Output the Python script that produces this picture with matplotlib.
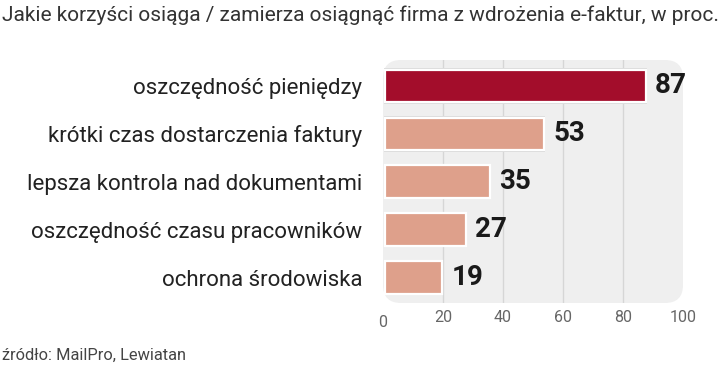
import matplotlib.pyplot as plt
from matplotlib.patches import FancyBboxPatch

# data
categories = ["oszczędność pieniędzy", "krótki czas dostarczenia faktury",
              "lepsza kontrola nad dokumentami", "oszczędność czasu pracowników",
              "ochrona środowiska"]
values = [87, 53, 35, 27, 19]
ticks = [0, 20, 40, 60, 80, 100]

title = "Jakie korzyści osiąga / zamierza osiągnąć firma z wdrożenia e-faktur, w proc."
source = "źródło: MailPro, Lewiatan"

W, H = 721, 371
fig = plt.figure(figsize=(W / 100, H / 100), dpi=100)
fig.patch.set_facecolor("white")

# axes placed in pixel terms: panel 383..683 x, 60..303 y
ax = fig.add_axes([383 / W, 1 - 303 / H, 300 / W, 243 / H])
ax.set_xlim(0, 100)
ax.set_ylim(4.53, -0.54)
ax.patch.set_visible(False)
for s in ax.spines.values():
    s.set_visible(False)

panel = FancyBboxPatch((0, 0), 1, 1, boxstyle="round,pad=0,rounding_size=0.06",
                       transform=ax.transAxes, facecolor="#efefef",
                       edgecolor="none", zorder=0, mutation_aspect=300 / 243)
ax.add_patch(panel)

for t in ticks[1:-1]:
    ax.axvline(t, color="#d6d6d6", lw=1, zorder=1)

colors = ["#a30d2b"] + ["#dea08b"] * (len(values) - 1)
ys = list(range(len(values)))

# soft shadow behind bars
ax.barh(ys, [v + 0.8 for v in values], height=0.74, left=0.2, color="#dadada",
        edgecolor="none", zorder=2)
ax.barh(ys, values, height=0.68, left=0.5, color=colors, edgecolor="white",
        linewidth=1.6, zorder=3)

for y, v in zip(ys, values):
    ax.annotate(str(v), (v + 0.5, y), xytext=(7, 0), textcoords="offset points",
                ha="left", va="center", fontsize=20, fontweight="bold",
                family="Roboto", color="#1a1a1a")

ax.set_yticks(ys)
ax.set_yticklabels(categories, fontsize=16, family="Roboto", color="#222222")
ax.tick_params(axis="y", length=0, pad=15)

ax.set_xticks(ticks)
ax.set_xticklabels([str(t) for t in ticks], fontsize=11.5, family="Roboto",
                   color="#666666")
ax.tick_params(axis="x", length=0, pad=5)
ax.get_xticklabels()[0].set_y(-0.02)

fig.text(2 / W, 1 - 15 / H, title, ha="left", va="center", fontsize=15,
         family="Roboto", color="#333333")
fig.text(2 / W, 1 - 355 / H, source, ha="left", va="center", fontsize=11.8,
         family="Roboto", color="#444444")

fig.savefig("out.png", dpi=100)
